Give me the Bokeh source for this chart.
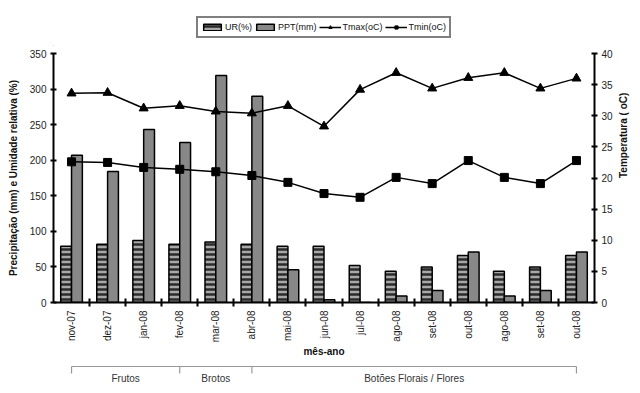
import math
from bokeh.plotting import figure
from bokeh.models import Range1d, LinearAxis, FixedTicker, Legend, LegendItem, ColumnDataSource
from bokeh.layouts import column
from bokeh.embed import file_html
from bokeh.resources import INLINE
from bokeh.core.properties import value

months = ["nov-07", "dez-07", "jan-08", "fev-08", "mar-08", "abr-08", "mai-08", "jun-08",
          "jul-08", "ago-08", "set-08", "out-08", "ago-08", "set-08", "out-08"]
ur = [79, 82, 87, 82, 85, 82, 79, 79, 52, 44, 50, 66, 44, 50, 66]
ppt = [207, 184, 243, 225, 319, 290, 46, 4, 0, 9, 17, 71, 9, 17, 71]
tmax = [33.6, 33.7, 31.2, 31.6, 30.7, 30.4, 31.6, 28.3, 34.2, 36.9, 34.4, 36.1, 36.9, 34.4, 36.0]
tmin = [22.6, 22.5, 21.7, 21.4, 21.0, 20.4, 19.3, 17.5, 16.9, 20.1, 19.1, 22.8, 20.1, 19.1, 22.8]
phases = ["Frutos", "Brotos", "Botões Florais / Flores"]
phase_start = [0, 3, 5]
phase_end = [3, 5, 14]
series_labels = ["UR(%)", "PPT(mm)", "Tmax(oC)", "Tmin(oC)"]

FONT = "Liberation Sans"

UR_STYLE = dict(fill_color="#a8a8a8", hatch_pattern="horizontal_line", hatch_color="#2a2a2a",
                hatch_scale=5, hatch_weight=2.5, line_color="black", line_width=1.5)
PPT_STYLE = dict(fill_color="#888888", line_color="black", line_width=1.5)
LINE_STYLE = dict(line_color="black", line_width=1.5)

idx = list(range(len(months)))
src = ColumnDataSource(dict(
    x=idx,
    x_ur=[i - 0.15 for i in idx],
    x_ppt=[i + 0.15 for i in idx],
    ur=ur, ppt=ppt, tmax=tmax, tmin=tmin,
))

# ---------- legend strip on top ----------
p0 = figure(width=640, height=46, x_range=Range1d(0, 1), y_range=Range1d(0, 1),
            output_backend="svg", toolbar_location=None, x_axis_location=None,
            y_axis_location=None, min_border=0)
p0.outline_line_color = None
p0.xgrid.visible = False
p0.ygrid.visible = False
# legend-only renderers: one sample each, placed outside the visible range
swatch = ColumnDataSource(dict(x=[-10], y=[-10]))
d_ur = p0.vbar(x="x", top="y", width=0.3, source=swatch, **UR_STYLE)
d_ppt = p0.vbar(x="x", top="y", width=0.3, source=swatch, **PPT_STYLE)
d_l1 = p0.line(x="x", y="y", source=swatch, **LINE_STYLE)
d_m1 = p0.scatter(x="x", y="y", source=swatch, marker="triangle", size=8,
                  fill_color="black", line_color="black")
d_l2 = p0.line(x="x", y="y", source=swatch, **LINE_STYLE)
d_m2 = p0.scatter(x="x", y="y", source=swatch, marker="square", size=7,
                  fill_color="black", line_color="black")
legend = Legend(items=[
    LegendItem(label=series_labels[0], renderers=[d_ur]),
    LegendItem(label=series_labels[1], renderers=[d_ppt]),
    LegendItem(label=series_labels[2], renderers=[d_l1, d_m1]),
    LegendItem(label=series_labels[3], renderers=[d_l2, d_m2]),
], orientation="horizontal", location=(143, 8))
legend.border_line_color = "black"
legend.border_line_width = 2
legend.background_fill_color = "white"
legend.background_fill_alpha = 1
legend.label_text_font = FONT
legend.label_text_font_size = "9px"
legend.label_text_color = "#111111"
legend.glyph_width = 22
legend.glyph_height = 8
legend.label_standoff = 2
legend.spacing = 2
legend.padding = 3
legend.margin = 0
legend.label_height = 12
p0.add_layout(legend, "center")

# ---------- main chart ----------
p = figure(width=640, height=316, x_range=Range1d(-0.5, len(months) - 0.5),
           y_range=Range1d(0, 350), output_backend="svg", toolbar_location=None,
           min_border_left=53, min_border_right=46, min_border_top=7, min_border_bottom=60)
p.outline_line_color = None
p.xgrid.visible = False
p.ygrid.visible = False
p.extra_y_ranges = {"temp": Range1d(0, 40)}

p.vbar(x="x_ur", top="ur", width=0.3, source=src, **UR_STYLE)
p.vbar(x="x_ppt", top="ppt", width=0.3, source=src, **PPT_STYLE)
p.line(x="x", y="tmax", source=src, y_range_name="temp", **LINE_STYLE)
p.scatter(x="x", y="tmax", source=src, y_range_name="temp", marker="triangle",
          size=9, fill_color="black", line_color="black")
p.line(x="x", y="tmin", source=src, y_range_name="temp", **LINE_STYLE)
p.scatter(x="x", y="tmin", source=src, y_range_name="temp", marker="square",
          size=8, fill_color="black", line_color="black")

# x axis
xa = p.xaxis[0]
xa.ticker = FixedTicker(ticks=idx, minor_ticks=[i + 0.5 for i in idx[:-1]])
xa.major_label_overrides = {i: m for i, m in enumerate(months)}
xa.major_label_orientation = math.pi / 2
xa.major_tick_in = 0
xa.major_tick_out = 0
xa.minor_tick_in = 4
xa.minor_tick_out = 4
xa.minor_tick_line_width = 2
xa.minor_tick_line_color = "black"
xa.major_label_standoff = 4
xa.axis_label = "mês-ano"
xa.axis_label_standoff = 1
xa.axis_label_text_font = FONT
xa.axis_label_text_font_style = "bold"
xa.axis_label_text_font_size = "10px"

# left axis
ya = p.yaxis[0]
ya.ticker = FixedTicker(ticks=list(range(0, 351, 50)))
ya.axis_label = "Precipitação (mm) e Umidade relativa (%)"
ya.axis_label_standoff = 8
ya.axis_label_text_font_style = "bold"

# right axis
ra = LinearAxis(y_range_name="temp", ticker=FixedTicker(ticks=list(range(0, 41, 5))))
ra.axis_label = "Temperatura ( oC)"
ra.axis_label_standoff = 8
ra.axis_label_text_font_style = "bold"
if "axis_label_orientation" in LinearAxis.properties():
    ra.axis_label_orientation = math.pi / 2
p.add_layout(ra, "right")

for ax in [xa, ya, ra]:
    ax.axis_line_width = 2
    ax.axis_line_color = "black"
    ax.major_label_text_font = FONT
    ax.major_label_text_font_size = "10px"
    ax.major_label_text_color = "#222222"
    ax.axis_label_text_font = FONT
    ax.axis_label_text_color = "#111111"
for ax in [ya, ra]:
    ax.major_tick_in = 3
    ax.major_tick_out = 3
    ax.major_tick_line_width = 2
    ax.major_tick_line_color = "black"
    ax.minor_tick_line_color = None
    ax.major_label_standoff = 4
    ax.axis_label_text_font_size = "10px"

# ---------- phase bracket below ----------
p2 = figure(width=640, height=31, x_range=p.x_range, y_range=Range1d(0, 31),
            output_backend="svg", toolbar_location=None, x_axis_location=None,
            y_axis_location=None, min_border_left=53, min_border_right=46,
            min_border_top=0, min_border_bottom=0)
p2.outline_line_color = None
p2.xgrid.visible = False
p2.ygrid.visible = False
bounds = sorted(set(phase_start + phase_end))
p2.segment(x0=[phase_start[0]], y0=[27], x1=[phase_end[-1]], y1=[27], line_color="#999999", line_width=1.2)
p2.segment(x0=bounds, y0=[27] * len(bounds), x1=bounds, y1=[20] * len(bounds),
           line_color="#999999", line_width=1.2)
p2.text(x=[(a + b) / 2 for a, b in zip(phase_start, phase_end)], y=[15] * len(phases), text=phases,
        text_align="center", text_baseline="middle", text_font=value(FONT),
        text_font_size="10px", text_color="#333333")

layout = column(p0, p, p2, spacing=0)
open("out.html", "w").write(file_html(layout, INLINE))
